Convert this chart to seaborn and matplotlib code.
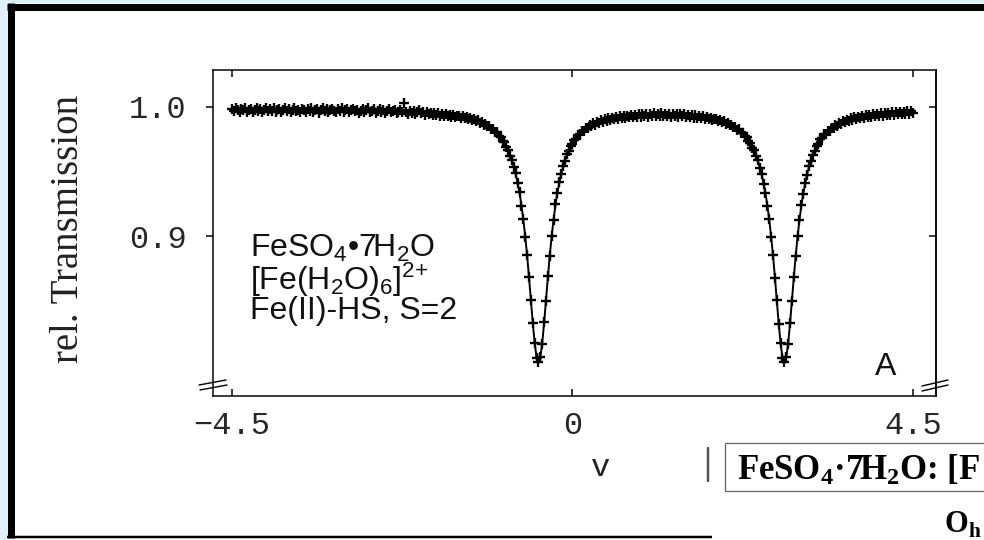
import numpy as np
import pandas as pd
import matplotlib
matplotlib.use("Agg")
import matplotlib.pyplot as plt
import seaborn as sns
from matplotlib.patches import Rectangle
from matplotlib.lines import Line2D

# ---------------- data ----------------
# measured spectrum: channels every 0.025 mm/s starting at -4.5 mm/s
v_start = -4.5
v_step = 0.025
t_data = [
    # -4.5
    0.9981, 0.9966, 0.9989, 0.9971, 0.9958, 0.9983, 0.9975, 0.9992,
    0.9963, 0.9978, 0.9986, 0.9960, 0.9973, 0.9994, 0.9969, 0.9981,
    0.9957, 0.9976, 0.9987, 0.9965, 0.9979, 0.9970, 0.9991, 0.9962,
    0.9977, 0.9984, 0.9959, 0.9974, 0.9988, 0.9968, 0.9980, 0.9956,
    0.9975, 0.9989, 0.9966, 0.9978, 0.9961, 0.9985, 0.9972, 0.9957,
    # -3.5
    0.9982, 0.9969, 0.9990, 0.9963, 0.9976, 0.9984, 0.9954, 0.9971,
    0.9987, 0.9965, 0.9979, 0.9960, 0.9974, 0.9986, 0.9967, 0.9956,
    0.9981, 0.9970, 0.9988, 0.9962, 0.9975, 0.9983, 0.9958, 0.9972,
    0.9985, 0.9964, 0.9977, 0.9953, 0.9969, 0.9982, 0.9961, 0.9974,
    0.9987, 0.9957, 0.9970, 0.9979, 0.9955, 0.9967, 0.9984, 0.9960,
    # -2.5
    0.9973, 0.9951, 0.9968, 0.9980, 0.9956, 0.9965, 0.9978, 0.9949,
    0.9963, 0.9975, 0.9957, 1.0032, 0.9961, 0.9946, 0.9970, 0.9954,
    0.9965, 0.9942, 0.9959, 0.9971, 0.9948, 0.9957, 0.9939, 0.9962,
    0.9945, 0.9955, 0.9933, 0.9950, 0.9938, 0.9949, 0.9930, 0.9945,
    0.9932, 0.9941, 0.9925, 0.9936, 0.9920, 0.9933, 0.9917, 0.9929,
    # -1.5
    0.9930, 0.9913, 0.9925, 0.9909, 0.9920, 0.9903, 0.9912, 0.9896,
    0.9905, 0.9886, 0.9895, 0.9875, 0.9883, 0.9862, 0.9868, 0.9848,
    0.9850, 0.9826, 0.9829, 0.9803, 0.9801, 0.9774, 0.9767, 0.9736,
    0.9724, 0.9686, 0.9667, 0.9620, 0.9590, 0.9532, 0.9484, 0.9409,
    0.9338, 0.9236, 0.9133, 0.8996, 0.8855, 0.8680, 0.8509, 0.8324,
    # -0.5
    0.8176, 0.8060, 0.8029, 0.8068, 0.8168, 0.8332, 0.8501, 0.8688,
    0.8847, 0.9004, 0.9125, 0.9244, 0.9330, 0.9417, 0.9476, 0.9541,
    0.9581, 0.9631, 0.9657, 0.9698, 0.9712, 0.9746, 0.9754, 0.9784,
    0.9787, 0.9814, 0.9812, 0.9837, 0.9833, 0.9856, 0.9850, 0.9872,
    0.9861, 0.9883, 0.9873, 0.9894, 0.9883, 0.9903, 0.9891, 0.9911,
    # 0.5
    0.9897, 0.9916, 0.9902, 0.9921, 0.9907, 0.9925, 0.9911, 0.9929,
    0.9913, 0.9932, 0.9917, 0.9934, 0.9919, 0.9937, 0.9921, 0.9940,
    0.9924, 0.9942, 0.9927, 0.9945, 0.9922, 0.9941, 0.9929, 0.9948,
    0.9926, 0.9944, 0.9930, 0.9951, 0.9925, 0.9943, 0.9931, 0.9947,
    0.9923, 0.9945, 0.9928, 0.9942, 0.9921, 0.9940, 0.9926, 0.9943,
    # 1.5
    0.9922, 0.9938, 0.9919, 0.9936, 0.9914, 0.9933, 0.9912, 0.9929,
    0.9911, 0.9926, 0.9908, 0.9921, 0.9903, 0.9916, 0.9898, 0.9908,
    0.9906, 0.9888, 0.9898, 0.9879, 0.9887, 0.9869, 0.9875, 0.9857,
    0.9862, 0.9842, 0.9845, 0.9823, 0.9824, 0.9800, 0.9797, 0.9771,
    0.9764, 0.9734, 0.9720, 0.9684, 0.9663, 0.9618, 0.9586, 0.9530,
    # 2.5
    0.9481, 0.9406, 0.9335, 0.9233, 0.9130, 0.8993, 0.8852, 0.8677,
    0.8506, 0.8321, 0.8173, 0.8057, 0.8026, 0.8065, 0.8165, 0.8329,
    0.8498, 0.8685, 0.8844, 0.9001, 0.9122, 0.9241, 0.9327, 0.9414,
    0.9475, 0.9541, 0.9579, 0.9630, 0.9656, 0.9697, 0.9712, 0.9747,
    0.9755, 0.9786, 0.9789, 0.9816, 0.9814, 0.9839, 0.9835, 0.9858,
    # 3.5
    0.9854, 0.9877, 0.9867, 0.9889, 0.9879, 0.9900, 0.9889, 0.9909,
    0.9897, 0.9917, 0.9904, 0.9923, 0.9910, 0.9929, 0.9915, 0.9934,
    0.9919, 0.9938, 0.9923, 0.9943, 0.9926, 0.9946, 0.9930, 0.9949,
    0.9932, 0.9952, 0.9935, 0.9955, 0.9937, 0.9957, 0.9939, 0.9960,
    0.9941, 0.9961, 0.9943, 0.9963, 0.9944, 0.9964, 0.9946, 0.9966,
    # 4.5
    0.9951,
]

# fitted curve (two Lorentzian lines of the quadrupole doublet)
v_fit = [-4.5, -4.0, -3.5, -3.0, -2.5, -2.0, -1.7, -1.5, -1.3, -1.2,
         -1.1, -1.0, -0.95, -0.9, -0.85, -0.8, -0.75, -0.7, -0.675, -0.65,
         -0.625, -0.6, -0.575, -0.55, -0.525, -0.5, -0.475, -0.45, -0.425, -0.4,
         -0.375, -0.35, -0.325, -0.3, -0.275, -0.25, -0.225, -0.2, -0.15, -0.1,
         -0.05, 0.0, 0.05, 0.1, 0.2, 0.3, 0.4, 0.5, 0.7, 0.9,
         1.175, 1.5, 1.7, 1.8, 1.9, 2.0, 2.1, 2.2, 2.25, 2.3,
         2.35, 2.4, 2.45, 2.5, 2.55, 2.575, 2.6, 2.625, 2.65, 2.675,
         2.7, 2.725, 2.75, 2.775, 2.8, 2.825, 2.85, 2.875, 2.9, 2.925,
         2.95, 2.975, 3.0, 3.025, 3.05, 3.1, 3.15, 3.2, 3.25, 3.3,
         3.35, 3.4, 3.5, 3.6, 3.7, 3.8, 4.0, 4.2, 4.5]
t_fit = [0.9975, 0.9974, 0.9972, 0.9969, 0.9964, 0.9953, 0.9939, 0.9924, 0.9898, 0.9876,
         0.9843, 0.9796, 0.9762, 0.9719, 0.9662, 0.9585, 0.9480, 0.9334, 0.9240, 0.9129,
         0.9000, 0.8851, 0.8684, 0.8505, 0.8328, 0.8172, 0.8064, 0.8025, 0.8064, 0.8172,
         0.8328, 0.8505, 0.8684, 0.8851, 0.9000, 0.9129, 0.9240, 0.9334, 0.9480, 0.9585,
         0.9662, 0.9717, 0.9760, 0.9793, 0.9840, 0.9869, 0.9891, 0.9905, 0.9922, 0.9932,
         0.9935, 0.9930, 0.9919, 0.9910, 0.9899, 0.9881, 0.9856, 0.9818, 0.9792, 0.9759,
         0.9716, 0.9659, 0.9582, 0.9477, 0.9331, 0.9237, 0.9126, 0.8997, 0.8848, 0.8681,
         0.8502, 0.8325, 0.8169, 0.8061, 0.8022, 0.8061, 0.8169, 0.8325, 0.8502, 0.8681,
         0.8848, 0.8997, 0.9126, 0.9237, 0.9331, 0.9479, 0.9584, 0.9661, 0.9718, 0.9761,
         0.9795, 0.9821, 0.9861, 0.9887, 0.9905, 0.9918, 0.9935, 0.9946, 0.9956]

x_ticks = [-4.5, 0.0, 4.5]
x_ticklabels = ["\u22124.5", "0", "4.5"]
y_ticks = [0.9, 1.0]
y_ticklabels = ["0.9", "1.0"]

label_lines = ["FeSO$_4$\u20227H$_2$O", "[Fe(H$_2$O)$_6$]$^{2{+}}$", "Fe(II)-HS, S=2"]
panel_letter = "A"
y_label = "rel. Transmission"
x_label = "v"
box_text = "FeSO$_\\mathbf{4}$\u00b77H$_\\mathbf{2}$O: [F"
sym_text = "O$_\\mathbf{h}$"

# ---------------- figure ----------------
assert len(v_fit) == len(t_fit)
v_data = np.round(v_start + v_step * np.arange(len(t_data)), 3)
df = pd.DataFrame({"v": v_data, "T": t_data})
fit = pd.DataFrame({"v": v_fit, "T": t_fit})

sns.set_theme(style="white")
plt.rcParams["font.family"] = ["Liberation Sans", "DejaVu Sans"]
plt.rcParams["mathtext.fontset"] = "custom"
plt.rcParams["mathtext.rm"] = "Liberation Sans"
plt.rcParams["mathtext.it"] = "Liberation Sans:italic"
plt.rcParams["mathtext.bf"] = "Liberation Serif:bold"
plt.rcParams["mathtext.sf"] = "Liberation Sans"

W, H = 984, 540
fig = plt.figure(figsize=(W / 100, H / 100), dpi=100, facecolor="#dff0fb")
fx = lambda x: x / W
fy = lambda y: 1 - y / H

# white page with heavy black frame
fig.add_artist(Rectangle((fx(8), 0), 1.2, fy(3), transform=fig.transFigure,
                         facecolor="white", edgecolor="none", zorder=0))
px = 0.72  # points per pixel
fig.add_artist(Line2D([fx(10.5), fx(10.5)], [fy(3), fy(538)], transform=fig.transFigure,
                      color="black", lw=7 * px, solid_capstyle="butt"))
fig.add_artist(Line2D([fx(7), 1.01], [fy(6.5), fy(6.5)], transform=fig.transFigure,
                      color="black", lw=7 * px, solid_capstyle="butt"))
fig.add_artist(Line2D([fx(7), fx(712)], [fy(536.5), fy(536.5)], transform=fig.transFigure,
                      color="black", lw=2.5 * px, solid_capstyle="butt"))

ax = fig.add_axes([fx(213), fy(396), (936 - 213) / W, (396 - 70) / H])
ax.set_facecolor("white")

sns.scatterplot(data=df, x="v", y="T", marker="+", s=46, color="black",
                linewidth=1.7, ax=ax, zorder=3)
sns.lineplot(data=fit, x="v", y="T", sort=False, estimator=None, color="black",
             linewidth=1.4, ax=ax, zorder=4)

ax.set_xlim(-4.751, 4.804)
ax.set_ylim(0.7763, 1.0284)
ax.set_xlabel("")
ax.set_ylabel("")
for s in ax.spines.values():
    s.set_visible(True)
    s.set_color("black")
    s.set_linewidth(1.5 * px)

mono = "Liberation Mono"
ax.set_xticks(x_ticks)
ax.set_xticklabels(x_ticklabels, family=mono, fontsize=23)
ax.set_yticks(y_ticks)
ax.set_yticklabels(y_ticklabels, family=mono, fontsize=23)
ax.tick_params(axis="x", direction="in", top=True, bottom=True, length=7 * px,
               width=1.5 * px, pad=11, color="black")
ax.tick_params(axis="y", direction="out", left=True, right=False, length=7 * px,
               width=1.5 * px, pad=14, color="black")
sec = ax.secondary_yaxis("right")
sec.set_yticks(y_ticks)
sec.set_yticklabels([])
sec.tick_params(direction="in", length=7 * px, width=1.5 * px, color="black")
sec.spines["right"].set_linewidth(1.5 * px)
sec.spines["right"].set_color("black")

# axis break marks
for (x0, y0, x1, y1) in [(199, 385, 226, 380), (200, 390, 227, 385),
                         (922, 386, 948, 380), (922, 391, 948, 385)]:
    fig.add_artist(Line2D([fx(x0), fx(x1)], [fy(y0), fy(y1)], transform=fig.transFigure,
                          color="black", lw=1.4 * px, zorder=6))

# texts
fig.text(fx(68), fy(229), y_label, rotation=90, ha="center", va="center",
         family="Liberation Serif", fontsize=28, color="#222222")
fig.text(fx(601), fy(468), x_label, ha="center", va="center", family=mono,
         fontsize=23, color="#222222")
fig.text(fx(250), fy(233), "\n".join(label_lines), ha="left", va="top",
         fontsize=23, color="#111111", linespacing=0.87)
fig.text(fx(886), fy(375), panel_letter, ha="center", va="baseline", fontsize=23,
         color="#111111")

# cropped caption box at bottom right
fig.add_artist(Line2D([fx(708), fx(708)], [fy(448), fy(481)], transform=fig.transFigure,
                      color="#555555", lw=2.5 * px))
fig.add_artist(Rectangle((fx(725), fy(491)), 0.5, (491 - 443) / H, transform=fig.transFigure,
                         facecolor="white", edgecolor="#666666", lw=1.3 * px, zorder=5))
fig.text(fx(737), fy(479), box_text, ha="left", va="baseline", family="Liberation Serif",
         fontweight="bold", fontsize=25, color="black", zorder=6)
fig.text(fx(944), fy(533), sym_text, ha="left", va="baseline", family="Liberation Serif",
         fontweight="bold", fontsize=22, color="black")

fig.savefig("out.png", dpi=100, facecolor=fig.get_facecolor())
